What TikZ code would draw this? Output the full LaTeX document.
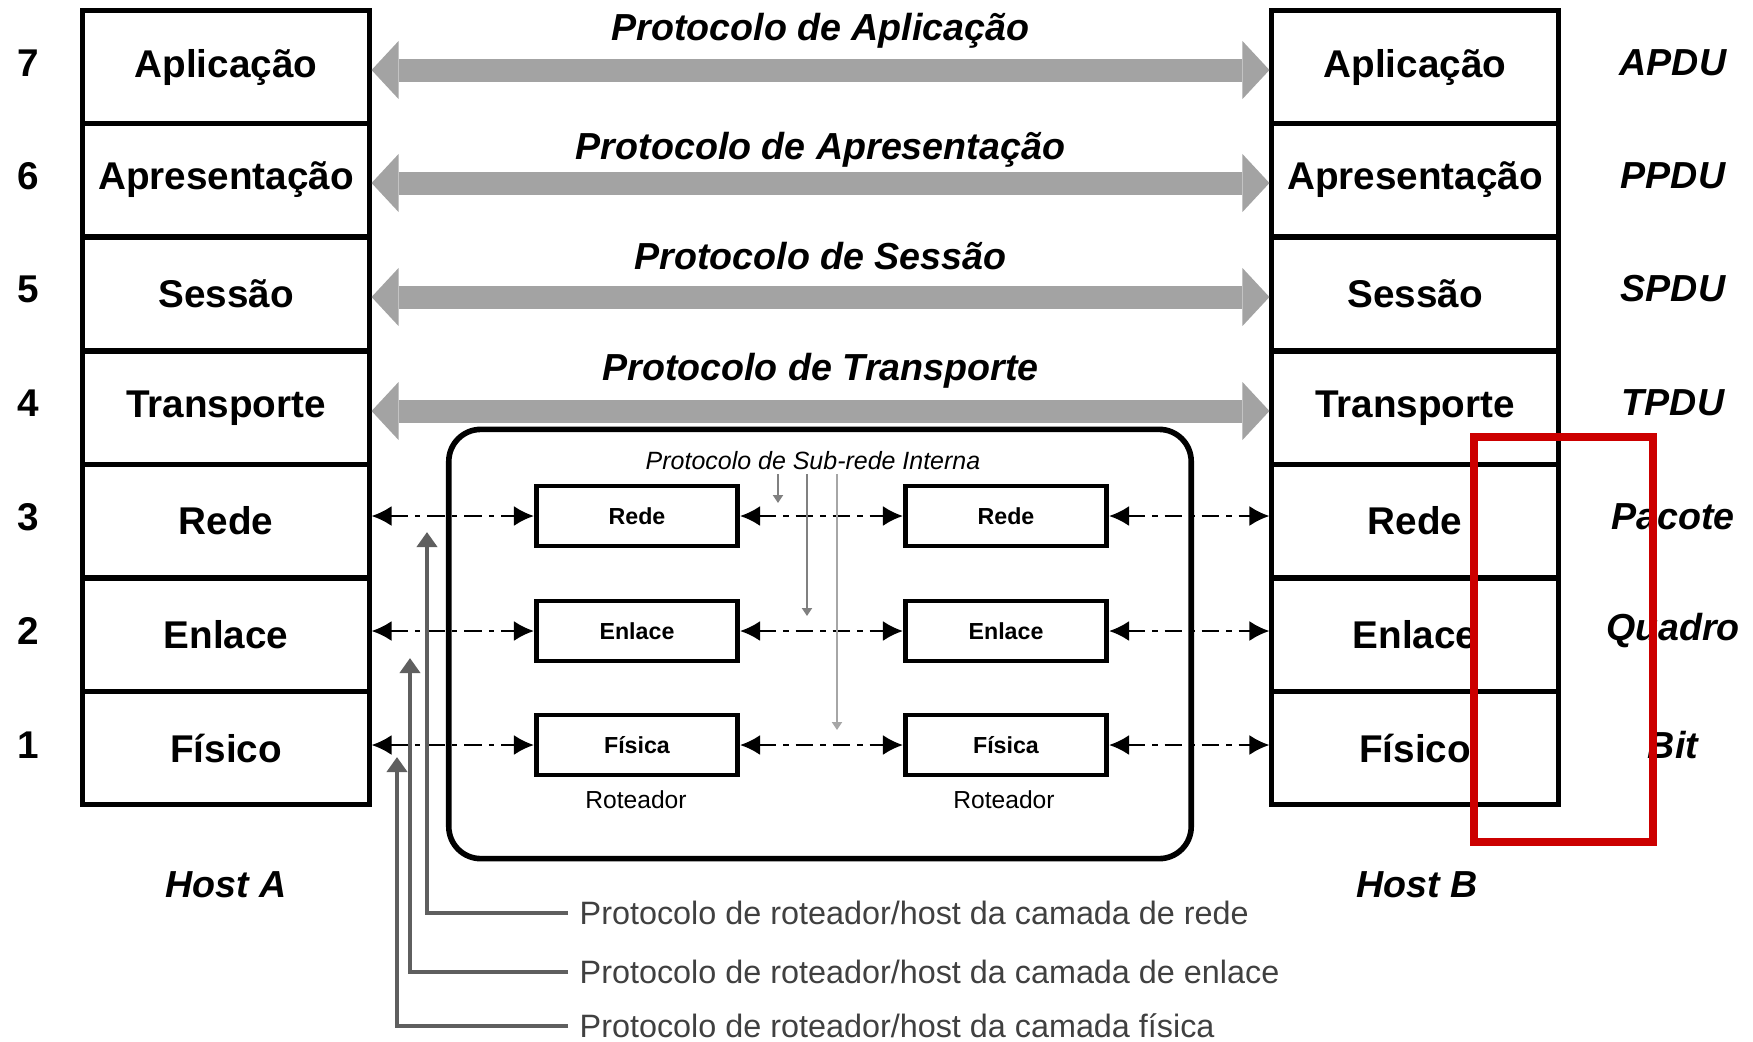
\documentclass[tikz,border=0pt]{standalone}
\usepackage{fontspec}
\setmainfont{Liberation Sans}
\usetikzlibrary{arrows.meta, positioning}
\definecolor{protgray}{RGB}{163,163,163}
\definecolor{legendgray}{RGB}{95,95,95}
\definecolor{markred}{RGB}{204,0,0}

\begin{document}
\begin{tikzpicture}[x=0.01cm, y=-0.01cm,
  layer/.style={draw, line width=1.4pt, minimum width=2.86cm, minimum height=1.136cm,
                inner sep=0pt, font=\fontsize{11}{13}\selectfont\bfseries},
  num/.style={font=\fontsize{11}{13}\selectfont\bfseries},
  pdu/.style={font=\fontsize{10.7}{13}\selectfont\bfseries\itshape},
  protlbl/.style={font=\fontsize{10.7}{13}\selectfont\bfseries\itshape},
  protarrow/.style={draw=protgray, line width=0.23cm,
    {Triangle[width=0.58cm,length=0.27cm,line width=0pt]}-{Triangle[width=0.58cm,length=0.27cm,line width=0pt]}},
  subnet/.style={draw, line width=1.6pt, rounded corners=0.32cm,
                 minimum width=7.42cm, minimum height=4.29cm},
  router/.style={draw, line width=1.4pt, minimum width=2.01cm, minimum height=0.6cm,
                 inner sep=0pt, font=\fontsize{6.6}{8}\selectfont\bfseries},
  rlbl/.style={font=\fontsize{7}{8}\selectfont},
  sublbl/.style={font=\fontsize{7.1}{8}\selectfont\itshape, inner sep=1pt},
  subarrow/.style={draw=gray, line width=0.6pt, -{Triangle[width=0.1cm,length=0.08cm]}},
  routerarrow/.style={line width=0.7pt, dash pattern=on 5pt off 2pt on 1.5pt off 2pt,
    {Latex[length=0.2cm,width=0.2cm]}-{Latex[length=0.2cm,width=0.2cm]}},
  legtxt/.style={font=\fontsize{9.2}{11}\selectfont, text=black!75, inner sep=0.11cm},
  legline/.style={draw=legendgray, line width=1.1pt, -{Triangle[width=0.2cm,length=0.15cm]}}
]
\useasboundingbox (0,0) rectangle (1753,1041);

%--- Host A stack ---
\node[layer] (A7) at (226,67)  {Aplicação};
\node[layer] (A6) at (226,180) {Apresentação};
\node[layer] (A5) at (226,294) {Sessão};
\node[layer] (A4) at (226,408) {Transporte};
\node[layer] (A3) at (226,521) {Rede};
\node[layer] (A2) at (226,635) {Enlace};
\node[layer] (A1) at (226,748) {Físico};

%--- Host B stack ---
\node[layer] (B7) at (1415,67)  {Aplicação};
\node[layer] (B6) at (1415,180) {Apresentação};
\node[layer] (B5) at (1415,294) {Sessão};
\node[layer] (B4) at (1415,408) {Transporte};
\node[layer] (B3) at (1415,521) {Rede};
\node[layer] (B2) at (1415,635) {Enlace};
\node[layer] (B1) at (1415,748) {Físico};

%--- Layer numbers ---
\node[num] (n7) at (28,63)  {7};
\node[num] (n6) at (28,176) {6};
\node[num] (n5) at (28,289) {5};
\node[num] (n4) at (28,403) {4};
\node[num] (n3) at (28,517) {3};
\node[num] (n2) at (28,631) {2};
\node[num] (n1) at (28,745) {1};

%--- PDU names ---
\node[pdu] (p7) at (1673,63)  {APDU};
\node[pdu] (p6) at (1673,176) {PPDU};
\node[pdu] (p5) at (1673,289) {SPDU};
\node[pdu] (p4) at (1673,403) {TPDU};
\node[pdu] (p3) at (1673,517) {Pacote};
\node[pdu] (p2) at (1673,631) {Quadro};
\node[pdu] (p1) at (1673,745) {Bit};

\node[pdu] (hostA) at (226,885)  {Host A};
\node[pdu] (hostB) at (1417,885) {Host B};

%--- Peer protocols (layers 7 to 4) ---
\draw[protarrow] ([yshift=-0.03cm]A7.east) -- node[protlbl, midway, yshift=0.39cm] {Protocolo de Aplicação} ([yshift=-0.03cm]B7.west);
\draw[protarrow] ([yshift=-0.03cm]A6.east) -- node[protlbl, midway, yshift=0.33cm] {Protocolo de Apresentação} ([yshift=-0.03cm]B6.west);
\draw[protarrow] ([yshift=-0.03cm]A5.east) -- node[protlbl, midway, yshift=0.41cm] {Protocolo de Sessão} ([yshift=-0.03cm]B5.west);
\draw[protarrow] ([yshift=-0.03cm]A4.east) -- node[protlbl, midway, yshift=0.40cm] {Protocolo de Transporte} ([yshift=-0.03cm]B4.west);

%--- Subnet with two routers ---
\node[subnet] (subnet) at (820,644) {};
\node[sublbl] (sub) at (813,461) {Protocolo de Sub-rede Interna};

\node[router] (RA3) at (637,516)  {Rede};
\node[router] (RA2) at (637,631)  {Enlace};
\node[router] (RA1) at (637,745)  {Física};
\node[router] (RB3) at (1006,516) {Rede};
\node[router] (RB2) at (1006,631) {Enlace};
\node[router] (RB1) at (1006,745) {Física};

\node[rlbl] (rotA) at (636,800)  {Roteador};
\node[rlbl] (rotB) at (1004,800) {Roteador};

%--- Router links ---
\draw[routerarrow] (RA3.west -| A3.east) -- (RA3.west);
\draw[routerarrow] (RA2.west -| A2.east) -- (RA2.west);
\draw[routerarrow] (RA1.west -| A1.east) -- (RA1.west);
\draw[routerarrow] (RA3.east) -- (RB3.west);
\draw[routerarrow] (RA2.east) -- (RB2.west);
\draw[routerarrow] (RA1.east) -- (RB1.west);
\draw[routerarrow] (RB3.east) -- (RB3.east -| B3.west);
\draw[routerarrow] (RB2.east) -- (RB2.east -| B2.west);
\draw[routerarrow] (RB1.east) -- (RB1.east -| B1.west);

% sub-rede pointers
\coordinate (s3) at (778,503);
\coordinate (s2) at (807,616);
\coordinate (s1) at (837,730);
\draw[subarrow] (sub.south -| s3) -- (s3);
\draw[subarrow] (sub.south -| s2) -- (s2);
\draw[subarrow, draw=gray!70] (sub.south -| s1) -- (s1);

%--- Legend ---
\node[legtxt, anchor=west] (leg3) at (568,913)  {Protocolo de roteador/host da camada de rede};
\node[legtxt, anchor=west] (leg2) at (568,972)  {Protocolo de roteador/host da camada de enlace};
\node[legtxt, anchor=west] (leg1) at (568,1026) {Protocolo de roteador/host da camada física};
\coordinate (l3) at (427,532);
\coordinate (l2) at (410,658);
\coordinate (l1) at (397,757);
\draw[legline] (leg3.west) -| (l3);
\draw[legline] (leg2.west) -| (l2);
\draw[legline] (leg1.west) -| (l1);

% highlight
\draw[markred, line width=0.08cm] (1474,437) rectangle (1653,842);

\end{tikzpicture}
\end{document}
